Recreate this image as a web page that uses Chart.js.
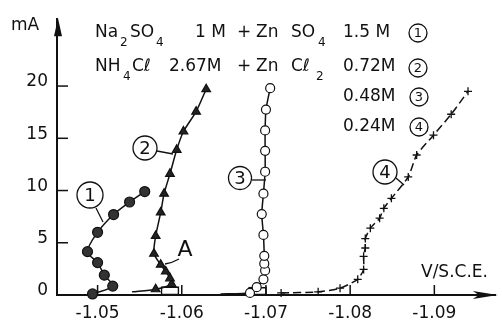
<!DOCTYPE html>
<html>
<head>
<meta charset="utf-8">
<script src="https://cdn.jsdelivr.net/npm/chart.js@4.4.0/dist/chart.umd.min.js"></script>
<style>
  html, body { margin: 0; padding: 0; background: #fff; }
  #wrap { width: 502px; height: 331px; }
</style>
</head>
<body>
<div id="wrap"><canvas id="chart" width="502" height="331"></canvas></div>
<script>
// Potential (V / S.C.E.) and current (mA)
const xTicks = [-1.05, -1.06, -1.07, -1.08, -1.09];
const yTicks = [0, 5, 10, 15, 20];

// curve 1 : 1.5 M
const c1V = [-1.0494, -1.0518, -1.0508, -1.0500, -1.0488, -1.0500, -1.0519, -1.0538, -1.0556];
const c1I = [0.1, 0.85, 1.9, 3.1, 4.15, 6.0, 7.7, 8.9, 9.9];

// curve 2 : 0.72 M (first point is where the line starts, no marker)
const c2V = [-1.0541, -1.0569, -1.0588, -1.0586, -1.0581, -1.0575, -1.0567, -1.0569, -1.0575,
             -1.0579, -1.0586, -1.0594, -1.0602, -1.0617, -1.0629];
const c2I = [0.3, 0.55, 1.05, 1.6, 2.25, 2.9, 3.95, 5.65, 7.9, 9.7, 11.6, 13.9, 15.65, 17.55, 19.7];

// curve 3 : 0.48 M (first point is where the line starts, no marker)
const c3V = [-1.0646, -1.0681, -1.0689, -1.0697, -1.0699, -1.0698, -1.0698, -1.0697, -1.0695,
             -1.0697, -1.0699, -1.0699, -1.0699, -1.0700, -1.0705];
const c3I = [0.1, 0.2, 0.75, 1.5, 2.35, 3.0, 3.75, 5.75, 7.75, 9.7, 11.8, 13.8, 15.75, 17.75, 19.8];

// curve 4 : 0.24 M
const c4V = [-1.0718, -1.0762, -1.0788, -1.0809, -1.0816, -1.0816, -1.0818, -1.0818, -1.0824,
             -1.0835, -1.0840, -1.0849, -1.0869, -1.0879, -1.0899, -1.0920, -1.0940];
const c4I = [0.2, 0.3, 0.65, 1.5, 2.45, 3.7, 4.5, 5.4, 6.4, 7.35, 8.3, 9.25, 11.3, 13.4, 15.3, 17.3, 19.5];

// small boxes sitting on the axis
const boxV = [-1.0586, -1.0690];
const boxI = [0.8, 0.75];

const ink = '#111';
const font = '"DejaVu Sans", sans-serif';

function pts(vs, is) { return vs.map((v, i) => ({ x: v, y: is[i] })); }

function circled(ctx, x, y, r, t, size) {
  ctx.beginPath();
  ctx.arc(x, y, r, 0, Math.PI * 2);
  ctx.stroke();
  ctx.font = size + 'px ' + font;
  ctx.textAlign = 'center';
  ctx.fillText(t, x, y + 1);
  ctx.textAlign = 'left';
}

// text pieces: [string, x, subscript?]
function pieces(ctx, y, list) {
  list.forEach(([t, x, sub]) => {
    ctx.font = (sub ? 12 : 17) + 'px ' + font;
    ctx.fillText(t, x, sub ? y + 10 : y);
  });
}

function seg(ctx, x1, y1, x2, y2) {
  ctx.beginPath(); ctx.moveTo(x1, y1); ctx.lineTo(x2, y2); ctx.stroke();
}

const inkPlugin = {
  id: 'ink',
  afterDraw(chart) {
    const ctx = chart.ctx;
    const xs = chart.scales.x, ys = chart.scales.y;
    const a = chart.chartArea;
    ctx.save();
    ctx.strokeStyle = ink;
    ctx.fillStyle = ink;
    ctx.lineWidth = 1.5;
    ctx.textBaseline = 'middle';

    // inward tick marks
    xTicks.forEach(v => { const p = xs.getPixelForValue(v); seg(ctx, p, a.bottom, p, a.bottom - 10); });
    yTicks.slice(1).forEach(v => { const p = ys.getPixelForValue(v); seg(ctx, a.left, p, a.left + 11, p); });

    // arrow heads
    ctx.beginPath();
    ctx.moveTo(a.left + 1, a.top - 1); ctx.lineTo(a.left - 3, a.top + 17); ctx.lineTo(a.left + 5, a.top + 17);
    ctx.closePath(); ctx.fill();
    ctx.beginPath();
    ctx.moveTo(a.right + 2, a.bottom); ctx.lineTo(a.right - 23, a.bottom - 4);
    ctx.lineTo(a.right - 17, a.bottom); ctx.lineTo(a.right - 23, a.bottom + 4);
    ctx.closePath(); ctx.fill();

    // axis titles
    ctx.font = '17px ' + font;
    ctx.fillText('mA', 11, 26);
    ctx.fillText('V/S.C.E.', 421, 273);

    // composition block
    pieces(ctx, 33, [['Na', 95], ['2', 120, 1], ['SO', 130], ['4', 156, 1], ['1 M', 195], ['+', 237],
                     ['Zn', 256], ['SO', 291], ['4', 318, 1], ['1.5 M', 343]]);
    pieces(ctx, 67, [['NH', 95], ['4', 123, 1], ['C\u2113', 132], ['2.67M', 169], ['+', 237],
                     ['Zn', 256], ['C\u2113', 291], ['2', 316, 1], ['0.72M', 343]]);
    pieces(ctx, 97, [['0.48M', 343]]);
    pieces(ctx, 127, [['0.24M', 343]]);
    ctx.lineWidth = 1.3;
    circled(ctx, 418, 33, 9, '1', 13);
    circled(ctx, 418, 68, 9, '2', 13);
    circled(ctx, 419, 97, 9, '3', 13);
    circled(ctx, 419, 127, 9, '4', 13);

    // curve labels with leader lines
    circled(ctx, 90, 195, 13, '1', 18);
    seg(ctx, 96, 208, 103, 222);
    circled(ctx, 145, 148, 12, '2', 18);
    seg(ctx, 157, 151, 173, 154);
    circled(ctx, 240, 178, 11.5, '3', 18);
    seg(ctx, 252, 180, 266, 180);
    circled(ctx, 385, 172, 12, '4', 18);
    seg(ctx, 396, 178, 404, 185);

    ctx.font = '22px ' + font;
    ctx.textAlign = 'center';
    ctx.fillText('A', 185, 250);
    ctx.beginPath();
    ctx.moveTo(179, 259); ctx.quadraticCurveTo(172, 263, 165, 264);
    ctx.stroke();
    ctx.restore();
  }
};

const lineBase = {
  type: 'line',
  borderColor: ink,
  borderWidth: 1.5,
  pointBorderColor: ink,
  pointBorderWidth: 1.2,
  tension: 0.3,
  clip: false,
  order: 0
};

new Chart(document.getElementById('chart'), {
  data: {
    datasets: [
      {
        type: 'bar',
        data: boxV.map((v, i) => ({ x: v, y: [0, boxI[i]] })),
        backgroundColor: '#fff',
        borderColor: ink,
        borderWidth: 1.6,
        borderSkipped: false,
        barThickness: 18,
        grouped: false,
        order: 5
      },
      Object.assign({}, lineBase, {
        data: pts(c1V, c1I),
        pointStyle: 'circle',
        pointRadius: 5,
        pointBackgroundColor: '#333'
      }),
      Object.assign({}, lineBase, {
        data: pts(c2V, c2I),
        pointStyle: 'triangle',
        pointRadius: ctx => ctx.dataIndex === 0 ? 0 : 5,
        pointBackgroundColor: '#222',
        tension: 0.25
      }),
      Object.assign({}, lineBase, {
        data: pts(c3V, c3I),
        pointStyle: 'circle',
        pointRadius: ctx => ctx.dataIndex === 0 ? 0 : 4.5,
        pointBackgroundColor: '#fff',
        tension: 0.2
      }),
      Object.assign({}, lineBase, {
        data: pts(c4V, c4I),
        pointStyle: 'cross',
        pointRadius: 4,
        pointBorderWidth: 1.3,
        borderDash: [8, 4],
        tension: 0.2
      })
    ]
  },
  options: {
    responsive: false,
    animation: false,
    layout: { padding: { top: 15, right: 2, left: 0, bottom: 0 } },
    plugins: { legend: { display: false }, tooltip: { enabled: false } },
    scales: {
      x: {
        type: 'linear',
        reverse: true,
        offset: false,
        min: -1.0973,
        max: -1.04518,
        afterBuildTicks: s => { s.ticks = xTicks.map(v => ({ value: v })); },
        afterFit: s => { s.height = 36; },
        grid: { display: false, drawTicks: false, offset: false },
        border: { display: true, color: ink, width: 2 },
        ticks: {
          padding: 8,
          color: ink,
          font: { family: font, size: 17 },
          callback: v => v.toFixed(2)
        }
      },
      y: {
        type: 'linear',
        min: 0,
        max: 26.4,
        afterBuildTicks: s => { s.ticks = yTicks.map(v => ({ value: v })); },
        afterFit: s => { s.width = 57; },
        grid: { display: false, drawTicks: false },
        border: { display: true, color: ink, width: 2 },
        ticks: {
          padding: 9,
          labelOffset: -4,
          color: ink,
          font: { family: font, size: 17 },
          callback: v => String(v)
        }
      }
    }
  },
  plugins: [inkPlugin]
});
</script>
</body>
</html>
